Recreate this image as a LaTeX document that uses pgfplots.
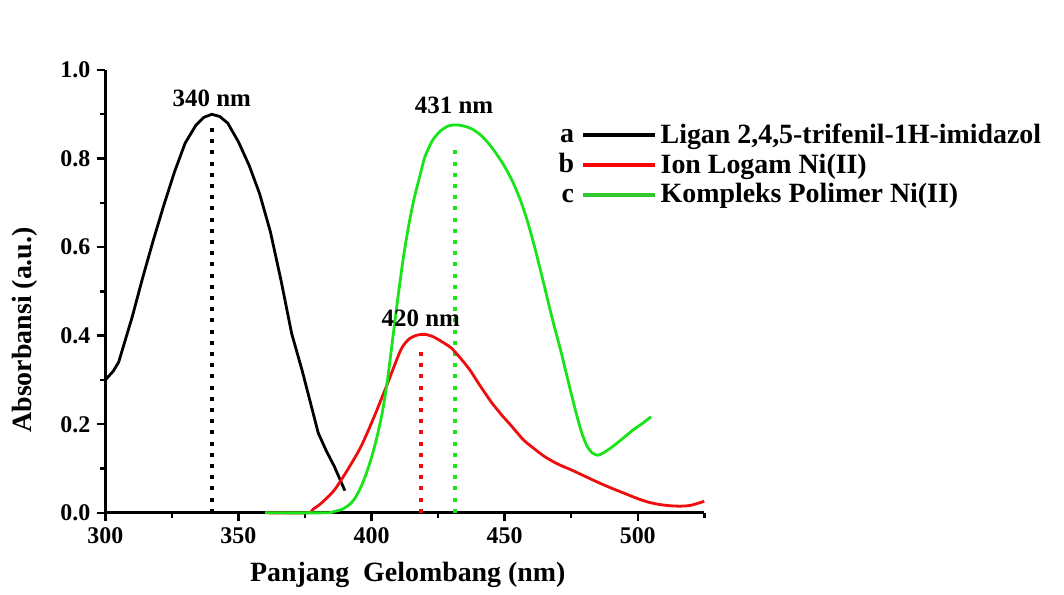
\documentclass[border=0pt]{standalone}
\usepackage{fontspec}
\setmainfont{Liberation Serif}
\usepackage{pgfplots}
\pgfplotsset{compat=1.18}
\definecolor{cgreen}{RGB}{25,228,25}
\definecolor{lgreen}{RGB}{50,200,50}
\definecolor{cred}{RGB}{238,12,12}
\begin{document}
\begin{tikzpicture}
\begin{axis}[
  scale only axis, width=299.5bp, height=221.4bp,
  xmin=300, xmax=525, ymin=0, ymax=1,
  axis x line*=bottom, axis y line*=left,
  axis line style={line width=1.5bp},
  xtick={300,350,400,450,500}, minor xtick={325,375,425,475,525},
  ytick={0,0.2,0.4,0.6,0.8,1.0}, minor ytick={0.1,0.3,0.5,0.7,0.9},
  tick align=outside, major tick length=4bp, minor tick length=2.5bp,
  every tick/.style={black, line width=1.2bp},
  yticklabel style={/pgf/number format/.cd, fixed, fixed zerofill, precision=1},
  /pgf/number format/assume math mode=true,
  tick label style={font=\fontsize{12}{14}\selectfont\bfseries},
  xlabel={Panjang~ Gelombang (nm)}, ylabel={Absorbansi (a.u.)},
  label style={font=\fontsize{14}{16}\selectfont\bfseries},
  xlabel style={at={(rel axis cs:0.505,-0.141)}, anchor=center},
  ylabel style={at={(rel axis cs:-0.134,0.413)}, anchor=center},
  legend style={draw=none, fill=none, at={(rel axis cs:0.756,0.887)}, anchor=north west,
    font=\fontsize{14}{16}\selectfont\bfseries, row sep=0.8bp, inner sep=0pt,
    nodes={inner sep=1.5bp}},
  legend cell align=left,
  clip=false,
]
\path (rel axis cs:-0.1758,-0.1746) rectangle (rel axis cs:1.6005,1.1581);

% dotted peak markers
\addplot[black, line width=2bp, dash pattern=on 2bp off 3.6bp, forget plot] coordinates {(340,0) (340,0.87)};
\addplot[cred, line width=2bp, dash pattern=on 2bp off 3.6bp, forget plot] coordinates {(418.5,0) (418.5,0.37)};
\addplot[cgreen, line width=2bp, dash pattern=on 2bp off 3.6bp, forget plot] coordinates {(431.3,0) (431.3,0.83)};

\addplot[black, line width=1.4bp,
  legend image code/.code={\draw[black, line width=2.2bp] (0,0) -- (36bp,0);
    \node[black, anchor=mid east, inner sep=0pt, font=\fontsize{14}{16}\selectfont\bfseries] at (-4bp,-1.6bp) {a};}]
coordinates {
(300,0.300) (303,0.320) (305,0.340) (307,0.380) (310,0.440) (314,0.530)
(318,0.615) (322,0.695) (326,0.770) (330,0.835) (334,0.875) (337,0.893)
(340,0.900) (343,0.895) (346,0.880) (350,0.838) (354,0.785) (358,0.720)
(362,0.635) (366,0.525) (370,0.405) (374,0.320) (377,0.250) (380,0.180)
(383,0.140) (386,0.105) (390,0.050)
};
\addlegendentry{Ligan 2,4,5-trifenil-1H-imidazol}

\addplot[cred, line width=1.4bp, smooth, tension=0.4,
  legend image code/.code={\draw[red, line width=2.2bp] (0,0) -- (36bp,0);
    \node[black, anchor=mid east, inner sep=0pt, font=\fontsize{14}{16}\selectfont\bfseries] at (-4bp,-1.6bp) {b};}]
coordinates {
(360,0) (376,0) (378,0.008) (381,0.021) (386,0.051) (391,0.097) (396,0.149)
(401,0.217) (406,0.292) (411,0.368) (414,0.392) (417,0.401) (420,0.403)
(423,0.398) (426,0.388) (430,0.372) (434,0.345) (437,0.322) (441,0.285)
(445,0.250) (449,0.220) (452,0.200) (457,0.165) (460,0.150) (465,0.127)
(470,0.110) (475,0.097) (480,0.083) (485,0.069) (490,0.056) (495,0.044)
(500,0.032) (504,0.024) (508,0.019) (512,0.016) (516,0.015) (520,0.017)
(525,0.026)
};
\addlegendentry{Ion Logam Ni(II)}

\addplot[cgreen, line width=1.4bp, smooth, tension=0.4,
  legend image code/.code={\draw[lgreen, line width=2.2bp] (0,0) -- (36bp,0);
    \node[black, anchor=mid east, inner sep=0pt, font=\fontsize{14}{16}\selectfont\bfseries] at (-4bp,-1.6bp) {c};}]
coordinates {
(360,0) (383,0) (386,0.003) (389,0.008) (392,0.020) (394,0.035) (396,0.058)
(398,0.088) (400,0.125) (402,0.170) (404,0.225) (406,0.300) (408,0.395)
(410,0.490) (412,0.578) (414,0.650) (416,0.710) (418,0.757) (420,0.803)
(423,0.842) (426,0.863) (429,0.874) (432,0.876) (435,0.873) (438,0.866)
(441,0.853) (444,0.834) (447,0.810) (450,0.782) (453,0.748) (456,0.705)
(459,0.650) (462,0.583) (465,0.510) (468,0.436) (471,0.368) (474,0.294)
(477,0.222) (479,0.180) (481,0.150) (483,0.135) (485,0.130) (487,0.135)
(490,0.147) (494,0.166) (498,0.186) (502,0.203) (505,0.217)
};
\addlegendentry{Kompleks Polimer Ni(II)}

\node[font=\fontsize{12.5}{14}\selectfont\bfseries] at (axis cs:340,0.937) {340 nm};
\node[font=\fontsize{12.5}{14}\selectfont\bfseries] at (axis cs:431,0.921) {431 nm};
\node[font=\fontsize{12.5}{14}\selectfont\bfseries] at (axis cs:418.5,0.44) {420 nm};
\end{axis}
\end{tikzpicture}
\end{document}
